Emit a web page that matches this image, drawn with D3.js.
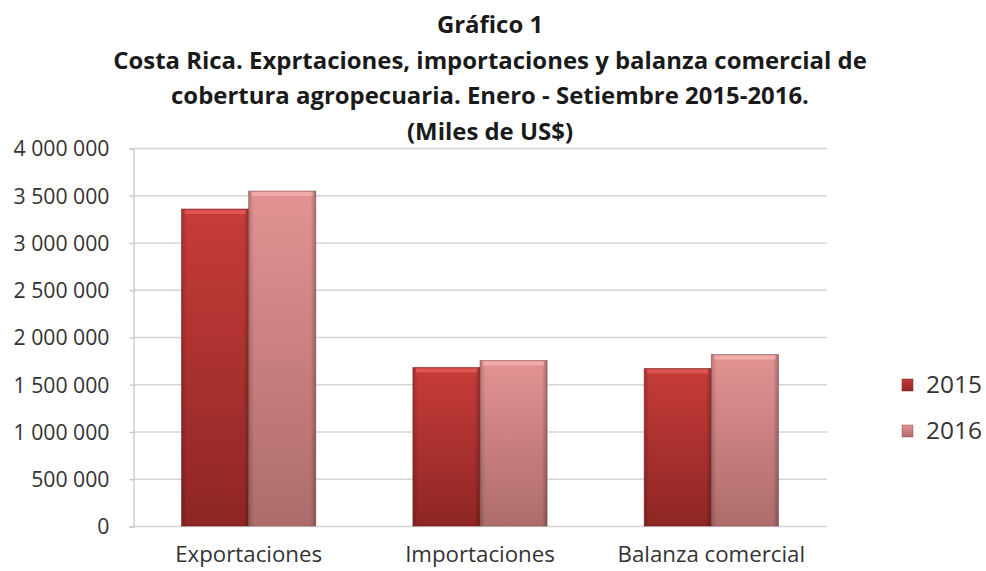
<!DOCTYPE html>
<html><head><meta charset="utf-8">
<script src="https://cdn.jsdelivr.net/npm/d3@7"></script>
<style>body{margin:0;background:#fff}svg{display:block}</style>
</head><body>
<script>
const categories = ["Exportaciones", "Importaciones", "Balanza comercial"];
const seriesNames = ["2015", "2016"];
const values2015 = [3354000, 1677000, 1667000];
const values2016 = [3544000, 1751000, 1814000];
const yTicks = [0, 500000, 1000000, 1500000, 2000000, 2500000, 3000000, 3500000, 4000000];
const titleLines = ["Gráfico 1",
  "Costa Rica. Exprtaciones, importaciones y balanza comercial de",
  "cobertura agropecuaria. Enero - Setiembre 2015-2016.",
  "(Miles de US$)"];

const W = 986, H = 571;
const svg = d3.select("body").append("svg").attr("width", W).attr("height", H);
const defs = svg.append("defs");
const pal = {
  "2015": {top: "#c63c3a", bot: "#8e2624", hi: "#e05a57", edge: "#7a2020"},
  "2016": {top: "#e39392", bot: "#ad6c6b", hi: "#f0b0ae", edge: "#8c5453"}
};
seriesNames.forEach(s => {
  const g = defs.append("linearGradient").attr("id", "g" + s).attr("x1", 0).attr("y1", 0).attr("x2", 0).attr("y2", 1);
  g.append("stop").attr("offset", "0%").attr("stop-color", pal[s].top);
  g.append("stop").attr("offset", "100%").attr("stop-color", pal[s].bot);
  const h = defs.append("linearGradient").attr("id", "h" + s).attr("x1", 0).attr("y1", 0).attr("x2", 1).attr("y2", 0);
  h.append("stop").attr("offset", "0%").attr("stop-color", "#000").attr("stop-opacity", 0.18);
  h.append("stop").attr("offset", "8%").attr("stop-color", "#000").attr("stop-opacity", 0);
  h.append("stop").attr("offset", "92%").attr("stop-color", "#000").attr("stop-opacity", 0);
  h.append("stop").attr("offset", "100%").attr("stop-color", "#000").attr("stop-opacity", 0.25);
});

const x0 = d3.scaleBand().domain(categories).range([133, 827]).paddingInner(0.42).paddingOuter(0.21);
const x1 = d3.scaleBand().domain(seriesNames).range([0, x0.bandwidth()]);
const y = d3.scaleLinear().domain([0, 4000000]).range([526, 148]);

// gridlines
svg.append("g").selectAll("line").data(yTicks).join("line")
  .attr("x1", 133).attr("x2", 827)
  .attr("y1", d => y(d) + 0.5).attr("y2", d => y(d) + 0.5)
  .attr("stroke", "#d4d4d4").attr("stroke-width", 1.3);

// y axis
const yAxis = d3.axisLeft(y).tickValues(yTicks).tickSize(4).tickPadding(20)
  .tickFormat(d => d3.format(",")(d).replace(/,/g, " "));
const ya = svg.append("g").attr("transform", "translate(133.5,0.5)").call(yAxis);
ya.select(".domain").attr("stroke", "#c8c8c8").attr("stroke-width", 1.3);
ya.selectAll(".tick line").attr("stroke", "#c8c8c8").attr("stroke-width", 1.3);
ya.selectAll("text").attr("font-family", "Open Sans").attr("font-size", 15.5).attr("fill", "#333").attr("dy", "0.35em");
(function(){
  const t = ya.selectAll("text").filter(d => d === 4000000).node();
  const w = t.getComputedTextLength();
  ya.selectAll("text").attr("font-size", 15.5 * 96 / w);
})();

// bars
const data = categories.map((c, i) => ({c, vals: [{s: "2015", v: values2015[i]}, {s: "2016", v: values2016[i]}]}));
const grp = svg.append("g").selectAll("g").data(data).join("g")
  .attr("transform", d => `translate(${x0(d.c)},0)`);
const bar = grp.selectAll("g").data(d => d.vals).join("g");
bar.append("rect")
  .attr("x", d => x1(d.s)).attr("width", x1.bandwidth())
  .attr("y", d => y(d.v)).attr("height", d => y(0) - y(d.v))
  .attr("fill", d => `url(#g${d.s})`)
  .attr("stroke", d => pal[d.s].edge).attr("stroke-width", 1).attr("stroke-opacity", 0.6);
bar.append("rect")
  .attr("x", d => x1(d.s)).attr("width", x1.bandwidth())
  .attr("y", d => y(d.v)).attr("height", d => y(0) - y(d.v))
  .attr("fill", d => `url(#h${d.s})`);
bar.append("rect")
  .attr("x", d => x1(d.s) + 3).attr("width", x1.bandwidth() - 6)
  .attr("y", d => y(d.v) + 1).attr("height", 4)
  .attr("fill", d => pal[d.s].hi).attr("opacity", 0.85);

// x labels
const xl = svg.append("g").selectAll("text").data(categories).join("text")
  .attr("x", d => x0(d) + x0.bandwidth() / 2).attr("y", 562)
  .attr("text-anchor", "middle").attr("font-family", "Open Sans").attr("font-size", 16)
  .attr("fill", "#333").text(d => d);
(function(){
  const w = xl.filter(d => d === "Exportaciones").node().getComputedTextLength();
  xl.attr("font-size", 16 * 147 / w);
})();

// title
const tb = [33, 69, 104, 140];
const tt = svg.append("g").selectAll("text").data(titleLines).join("text")
  .attr("x", 490).attr("y", (d, i) => tb[i]).attr("text-anchor", "middle")
  .attr("font-family", "Open Sans").attr("font-weight", "bold").attr("font-size", 18)
  .attr("fill", "#1a1a1a").text(d => d);
(function(){
  const w = tt.filter((d, i) => i === 1).node().getComputedTextLength();
  tt.attr("font-size", 18 * 754 / w);
})();

// legend
const lg = svg.append("g").selectAll("g").data(seriesNames).join("g")
  .attr("transform", (d, i) => `translate(902,${379 + i * 46})`);
lg.append("rect").attr("width", 11).attr("height", 12).attr("fill", d => `url(#g${d})`)
  .attr("stroke", d => pal[d].edge).attr("stroke-opacity", 0.5);
const lt = lg.append("text").attr("x", 24).attr("y", 15).attr("font-family", "Open Sans").attr("font-size", 21)
  .attr("fill", "#333").text(d => d);
(function(){
  const w = lt.node().getComputedTextLength();
  lt.attr("font-size", 21 * 56 / w).attr("y", 14);
})();
</script>
</body></html>
